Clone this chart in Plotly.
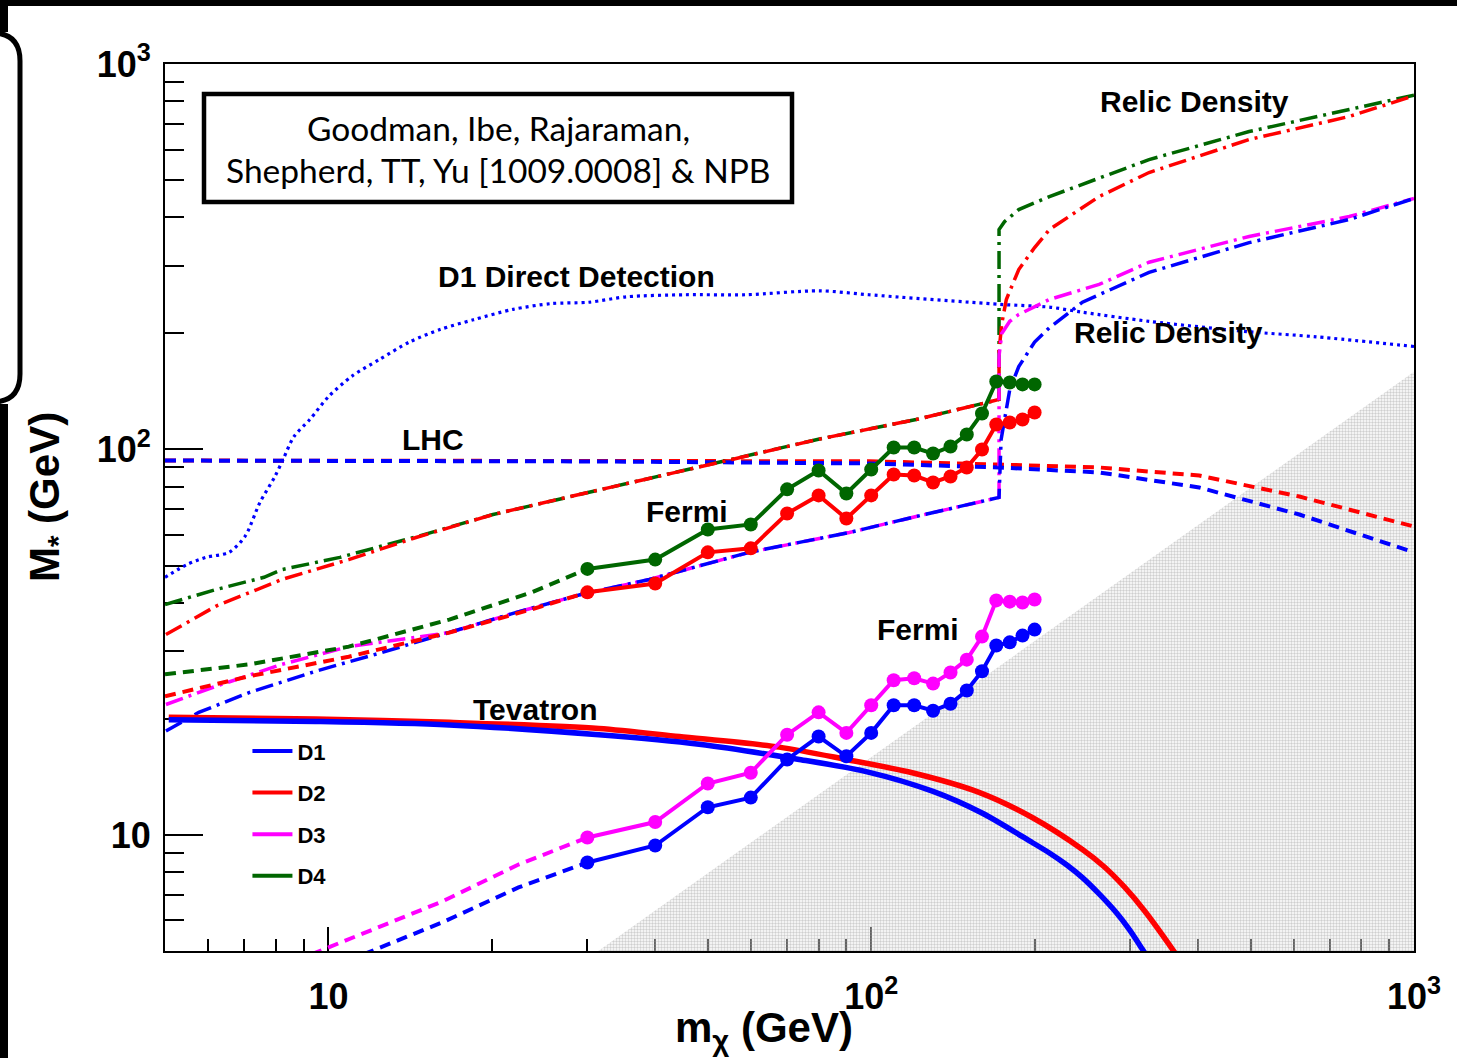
import math
import plotly.graph_objects as go

# ---------------- data (GeV) ----------------
fermi_m = [30, 40, 50, 60, 70, 80, 90, 100, 110, 120, 130, 140, 150, 160, 170, 180, 190, 200]
fermi_D1 = [8.48, 9.39, 11.8, 12.5, 15.7, 18.0, 16.0, 18.4, 21.7, 21.7, 21.0, 21.9, 23.7, 26.6, 31.0, 31.6, 32.9, 34.1]
fermi_D2 = [42.6, 44.9, 54.1, 55.4, 68.2, 76.0, 66.2, 76.0, 86.1, 85.6, 82.1, 85.1, 89.8, 100, 116.1, 117.5, 119.6, 124.7]
fermi_D3 = [9.85, 10.8, 13.6, 14.5, 18.2, 20.8, 18.4, 21.7, 25.2, 25.5, 24.7, 26.4, 28.5, 32.7, 40.6, 40.3, 40.1, 40.8]
fermi_D4 = [49.0, 51.8, 62.0, 63.9, 78.8, 88.2, 76.9, 88.7, 101.2, 101.2, 97.6, 101.8, 109.4, 124.0, 150.1, 149.2, 147.5, 147.5]

# low-mass extrapolations of the Fermi limits (dashed)
ext_m_D24 = [5.0, 7.14, 10.9, 16.7, 23.7, 30]
ext_D4 = [26.1, 27.7, 30.8, 36.2, 42.6, 49.0]
ext_D2 = [22.9, 25.8, 29.0, 33.5, 38.5, 42.6]
ext_m_D3 = [9.3, 16.2, 22.4, 30]
ext_D3 = [4.9, 6.72, 8.38, 9.85]
ext_m_D1 = [11.6, 16.2, 22.4, 30]
ext_D1 = [4.9, 5.93, 7.31, 8.48]

# Tevatron
tev_m_D1 = [5.08, 9.48, 16.7, 31.5, 48.2, 73.7, 97.9, 130, 160, 198, 213, 229, 245, 263, 283, 299, 316, 332]
tev_D1 = [19.9, 19.7, 19.3, 18.2, 17.2, 15.7, 14.6, 12.97, 11.4, 9.56, 8.98, 8.37, 7.75, 7.03, 6.28, 5.68, 5.05, 4.53]
tev_m_D2 = [5.08, 9.48, 16.7, 31.5, 44.3, 67.7, 89.9, 119, 158, 198, 245, 269, 293, 319, 359, 377]
tev_D2 = [20.2, 20.0, 19.6, 18.9, 18.0, 16.9, 15.7, 14.5, 12.9, 11.1, 9.17, 8.26, 7.32, 6.35, 5.05, 4.56]

# LHC
lhc_m = [5, 31.5, 99.2, 172, 263, 402, 615, 1000]
lhc_D1 = [93.6, 93.1, 92.0, 89.8, 87.2, 79.7, 67.8, 54.1]
lhc_D2 = [93.6, 93.6, 93.2, 91.4, 89.8, 85.6, 75.5, 63.1]

# Relic density
relic_m_D4 = [5.0, 6.20, 7.61, 8.21, 10.5, 14.6, 20.1, 27.9, 38.5, 55.4, 79.2, 121, 172, 172, 176, 187, 213, 325, 497, 760, 1000]
relic_D4 = [39.6, 43.3, 46.6, 48.8, 52.5, 59.5, 67.8, 75.5, 83.6, 94.2, 106, 119.6, 134.8, 372, 390, 419, 453, 565, 668, 762, 830]
relic_m_D2 = [5.02, 6.20, 8.21, 10.9, 14.5, 20.1, 27.9, 38.5, 55.4, 79.2, 121, 172, 172, 174, 177.4, 187, 200, 213, 263, 325, 497, 760, 1000]
relic_D2 = [33.1, 39.2, 46.0, 51.8, 59.1, 67.8, 75.5, 83.6, 94.2, 106, 119.6, 134.8, 180, 212, 245, 293, 334, 372, 453, 523, 637, 731, 827]
relic_m_D1 = [5.02, 5.77, 7.14, 9.48, 12.5, 16.7, 22.2, 29.3, 39.0, 59.6, 91.1, 121, 172, 173.5, 180, 187, 200, 213, 245, 325, 497, 760, 1000]
relic_D1 = [18.6, 20.8, 23.4, 26.6, 29.7, 33.5, 37.8, 42.1, 46.0, 54.1, 60.9, 67.0, 75.1, 106, 143, 164, 190, 207, 241, 288, 344, 395, 448]
relic_m_D3 = [5.02, 6.20, 8.21, 10.9, 16.7, 22.2, 29.3, 39.0, 59.6, 91.1, 121, 172, 172, 174, 180, 187, 213, 263, 325, 497, 760, 1000]
relic_D3 = [21.8, 24.3, 27.7, 30.8, 33.5, 37.8, 42.1, 46.0, 54.1, 60.9, 67.0, 75.1, 175, 200, 215, 224, 245, 268, 306, 357, 402, 448]

# D1 direct detection
dd_m = [5.0, 5.49, 5.95, 6.56, 7.02, 7.48, 7.97, 8.25, 8.64, 9.24, 10.0, 11.05, 12.4, 14.1, 16.1, 18.5, 21.9,
        25.7, 30.2, 35.5, 45.4, 58.8, 80.2, 99, 172, 213, 245, 325, 497, 661, 1000]
dd_M = [46.6, 50.3, 52.5, 54.1, 59.5, 72.9, 85.1, 94.2, 108, 119.6, 137, 155, 171, 190, 205, 217, 231,
        239, 241, 249, 252, 252, 258, 252, 238, 234, 227, 215, 202, 196, 185]

# excluded region M* < m_chi / (2 pi)
kin_m = [20.0, 1000.0, 1000.0]
kin_M = [20.0 / (2 * math.pi), 1000.0 / (2 * math.pi), 1.0]

x_ticks = [10, 100, 1000]
x_ticktext = ["10", "10<sup>2</sup>", "10<sup>3</sup>"]
y_ticks = [10, 100, 1000]
y_ticktext = ["10", "10<sup>2</sup>", "10<sup>3</sup>"]
minor_vals = [6, 7, 8, 9, 20, 30, 40, 50, 60, 70, 80, 90, 200, 300, 400, 500, 600, 700, 800, 900]

BLUE, RED, MAG, GREEN = "#0000ff", "#ff0000", "#ff00ff", "#006600"
DASH = "11px,7px"
DASHDOT = "18px,6px,3px,6px"
DOT = "3px,4px"

fig = go.Figure()

fig.add_trace(go.Scatter(x=kin_m, y=kin_M, mode="lines", fill="toself", line=dict(width=0),
                         fillcolor="rgba(0,0,0,0)",
                         fillpattern=dict(shape=".", size=3, solidity=0.5, fgcolor="#a0a0a0",
                                          bgcolor="rgba(255,255,255,0.35)"),
                         showlegend=False, hoverinfo="skip"))

def line(x, y, color, width, dash="solid", shape="linear"):
    fig.add_trace(go.Scatter(x=x, y=y, mode="lines",
                             line=dict(color=color, width=width, dash=dash, shape=shape, smoothing=0.8),
                             showlegend=False))

line(dd_m, dd_M, BLUE, 3.2, DOT, "spline")
line(lhc_m, lhc_D2, RED, 4, DASH)
line(lhc_m, lhc_D1, BLUE, 4, DASH)
line(relic_m_D4, relic_D4, GREEN, 3.5, DASHDOT)
line(relic_m_D2, relic_D2, RED, 3.5, DASHDOT)
line(relic_m_D3, relic_D3, MAG, 3.5, DASHDOT)
line(relic_m_D1, relic_D1, BLUE, 3.5, DASHDOT)
line(ext_m_D24, ext_D4, GREEN, 4, DASH)
line(ext_m_D24, ext_D2, RED, 4, DASH)
line(ext_m_D3, ext_D3, MAG, 4, DASH)
line(ext_m_D1, ext_D1, BLUE, 4, DASH)
line(tev_m_D2, tev_D2, RED, 5.5, "solid", "spline")
line(tev_m_D1, tev_D1, BLUE, 5.5, "solid", "spline")

for yv, c in [(fermi_D4, GREEN), (fermi_D2, RED), (fermi_D3, MAG), (fermi_D1, BLUE)]:
    fig.add_trace(go.Scatter(x=fermi_m, y=yv, mode="lines+markers", line=dict(color=c, width=4),
                             marker=dict(color=c, size=14), showlegend=False))

for name, c in [("D1", BLUE), ("D2", RED), ("D3", MAG), ("D4", GREEN)]:
    fig.add_trace(go.Scatter(x=[None], y=[None], mode="lines", line=dict(color=c, width=4), name=name,
                             legendgroup=name, showlegend=True))

HELV = "Liberation Sans, Arial, Helvetica, sans-serif"

def px2paper(px, py):
    return (px - 165) / 1249.0, (951 - py) / 887.0

labels = [("Relic Density", 1194, 101), ("D1 Direct Detection", 576, 276), ("Relic Density", 1168, 332),
          ("LHC", 433, 439), ("Fermi", 687, 511), ("Fermi", 918, 630), ("Tevatron", 535, 709)]
for t, px, py in labels:
    xp, yp = px2paper(px, py)
    fig.add_annotation(text=t, x=xp, y=yp, xref="paper", yref="paper", showarrow=False,
                       font=dict(family=HELV, size=30, color="black", weight="bold"),
                       xanchor="center", yanchor="middle")

# citation box
x0, y0 = px2paper(204, 94)
x1, y1 = px2paper(792, 202)
fig.add_shape(type="rect", xref="paper", yref="paper", x0=x0, y0=y0, x1=x1, y1=y1,
              line=dict(color="black", width=4.5), fillcolor="white")
for t, py in [("Goodman, Ibe, Rajaraman,", 128), ("Shepherd, TT, Yu [1009.0008] & NPB", 170)]:
    xp, yp = px2paper(499, py)
    fig.add_annotation(text=t, x=xp, y=yp, xref="paper", yref="paper", showarrow=False,
                       font=dict(family="Lato, Open Sans", size=33.5, color="black"),
                       xanchor="center", yanchor="middle")

# axis titles
xp, yp = px2paper(764, 1030)
fig.add_annotation(text="m<sub>χ</sub> (GeV)", x=xp, y=yp, xref="paper", yref="paper", showarrow=False,
                   font=dict(family=HELV, size=42, color="black", weight="bold"), xanchor="center", yanchor="middle")
xp, yp = px2paper(47, 497)
fig.add_annotation(text="M<sub>*</sub> (GeV)", x=xp, y=yp, xref="paper", yref="paper", showarrow=False,
                   textangle=-90,
                   font=dict(family=HELV, size=42, color="black", weight="bold"), xanchor="center", yanchor="middle")

# page decorations (black frame pieces)
def prect(px0, py0, px1, py1):
    a, b = px2paper(px0, py1)
    c, d = px2paper(px1, py0)
    fig.add_shape(type="rect", xref="paper", yref="paper", x0=a, y0=b, x1=c, y1=d,
                  line=dict(width=0), fillcolor="black", layer="above")

prect(0, 0, 1457, 6)
prect(0, 0, 8, 32)
prect(0, 404, 8, 1058)
pts = [(-30, 33), (-8, 33), (20, 33), (20, 61), (20, 374), (20, 402), (-8, 402), (-30, 402)]
pp = [px2paper(*p) for p in pts]
path = (f"M{pp[0][0]},{pp[0][1]} L{pp[1][0]},{pp[1][1]} Q{pp[2][0]},{pp[2][1]} {pp[3][0]},{pp[3][1]} "
        f"L{pp[4][0]},{pp[4][1]} Q{pp[5][0]},{pp[5][1]} {pp[6][0]},{pp[6][1]} L{pp[7][0]},{pp[7][1]}")
fig.add_shape(type="path", xref="paper", yref="paper", path=path, line=dict(color="black", width=5),
              layer="above")

axis_common = dict(type="log", range=[math.log10(5), 3], showline=True, linecolor="black", linewidth=2,
                   mirror=True, showgrid=False, zeroline=False, ticks="inside", tickcolor="black",
                   tickwidth=2, tickfont=dict(family=HELV, size=36, color="black", weight="bold"),
                   layer="below traces")

fig.update_layout(
    width=1457, height=1058,
    margin=dict(l=165, r=43, t=64, b=107),
    paper_bgcolor="white", plot_bgcolor="white",
    xaxis=dict(**axis_common, tickvals=x_ticks, ticktext=x_ticktext, ticklen=24, ticklabelstandoff=13,
               minor=dict(tickvals=minor_vals, ticks="inside", ticklen=12, tickwidth=2, tickcolor="black")),
    yaxis=dict(**axis_common, tickvals=y_ticks, ticktext=y_ticktext, ticklen=38, ticklabelstandoff=5,
               minor=dict(tickvals=minor_vals, ticks="inside", ticklen=19, tickwidth=2, tickcolor="black")),
    legend=dict(x=0.066, y=0.249, xanchor="left", yanchor="top", bgcolor="rgba(0,0,0,0)",
                font=dict(family=HELV, size=22, color="black", weight="bold"), itemwidth=40,
                tracegroupgap=10),
    showlegend=True,
)

fig.write_html("out.html")
